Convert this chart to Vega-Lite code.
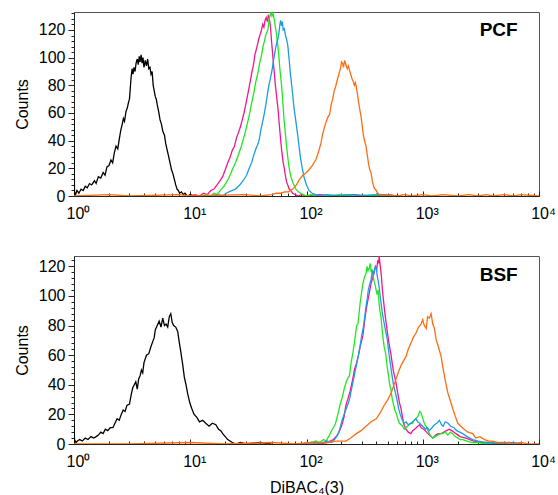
{
  "$schema": "https://vega.github.io/schema/vega-lite/v6.json",
  "padding": {"left": 13, "top": 11, "right": 4, "bottom": 4},
  "config": {
    "font": "Liberation Sans",
    "view": {"stroke": "#555555", "strokeWidth": 1},
    "axis": {"grid": false, "labelFont": "Liberation Sans", "labelFontSize": 16, "labelColor": "#000000", "titleFont": "Liberation Sans", "titleFontSize": 16, "titleFontWeight": "normal", "titleColor": "#000000", "domainColor": "#222222", "tickColor": "#222222"}
  },
  "spacing": 31,
  "datasets": {
    "lab": [{"p": "PCF", "x": 4500, "c": 120}, {"p": "BSF", "x": 4500, "c": 114}],
    "pcf": [
      {"s":"k","x":1,"c":0},{"s":"k","x":1,"c":55},{"s":"k","x":1.01,"c":3},{"s":"k","x":1.03,"c":1},{"s":"k","x":1.06,"c":4},{"s":"k","x":1.1,"c":2},{"s":"k","x":1.15,"c":5},{"s":"k","x":1.2,"c":4},{"s":"k","x":1.25,"c":7},{"s":"k","x":1.3,"c":6},{"s":"k","x":1.36,"c":9},{"s":"k","x":1.42,"c":8},{"s":"k","x":1.5,"c":11},{"s":"k","x":1.55,"c":9},{"s":"k","x":1.62,"c":14},{"s":"k","x":1.7,"c":13},{"s":"k","x":1.78,"c":17},{"s":"k","x":1.85,"c":15},{"s":"k","x":1.92,"c":21},{"s":"k","x":2.0,"c":22},{"s":"k","x":2.08,"c":26},{"s":"k","x":2.15,"c":24},{"s":"k","x":2.22,"c":31},{"s":"k","x":2.3,"c":36},{"s":"k","x":2.38,"c":34},{"s":"k","x":2.45,"c":41},{"s":"k","x":2.52,"c":47},{"s":"k","x":2.6,"c":52},{"s":"k","x":2.66,"c":56},{"s":"k","x":2.72,"c":54},{"s":"k","x":2.8,"c":61},{"s":"k","x":2.88,"c":64},{"s":"k","x":2.95,"c":68},{"s":"k","x":3.0,"c":70},{"s":"k","x":3.05,"c":78},{"s":"k","x":3.1,"c":86},{"s":"k","x":3.16,"c":92},{"s":"k","x":3.22,"c":88},{"s":"k","x":3.28,"c":93},{"s":"k","x":3.35,"c":90},{"s":"k","x":3.42,"c":96},{"s":"k","x":3.5,"c":99},{"s":"k","x":3.57,"c":95},{"s":"k","x":3.64,"c":101},{"s":"k","x":3.7,"c":97},{"s":"k","x":3.78,"c":102},{"s":"k","x":3.85,"c":96},{"s":"k","x":3.92,"c":100},{"s":"k","x":4.0,"c":93},{"s":"k","x":4.1,"c":98},{"s":"k","x":4.2,"c":94},{"s":"k","x":4.3,"c":99},{"s":"k","x":4.4,"c":92},{"s":"k","x":4.5,"c":93},{"s":"k","x":4.6,"c":88},{"s":"k","x":4.7,"c":90},{"s":"k","x":4.8,"c":80},{"s":"k","x":4.9,"c":76},{"s":"k","x":5.0,"c":72},{"s":"k","x":5.1,"c":70},{"s":"k","x":5.2,"c":66},{"s":"k","x":5.35,"c":61},{"s":"k","x":5.5,"c":55},{"s":"k","x":5.65,"c":52},{"s":"k","x":5.8,"c":47},{"s":"k","x":6.0,"c":44},{"s":"k","x":6.15,"c":38},{"s":"k","x":6.3,"c":34},{"s":"k","x":6.5,"c":29},{"s":"k","x":6.7,"c":24},{"s":"k","x":6.9,"c":19},{"s":"k","x":7.1,"c":16},{"s":"k","x":7.3,"c":12},{"s":"k","x":7.5,"c":8},{"s":"k","x":7.7,"c":5},{"s":"k","x":7.9,"c":4},{"s":"k","x":8.1,"c":2},{"s":"k","x":8.4,"c":3},{"s":"k","x":8.7,"c":1},{"s":"k","x":9.0,"c":2},{"s":"k","x":9.4,"c":0},{"s":"k","x":10,"c":1},{"s":"k","x":11,"c":0},{"s":"k","x":14,"c":0},
      {"s":"m","x":10,"c":0},{"s":"m","x":11,"c":1},{"s":"m","x":12,"c":0},{"s":"m","x":13,"c":2},{"s":"m","x":14,"c":1},{"s":"m","x":15,"c":4},{"s":"m","x":16,"c":5},{"s":"m","x":17,"c":8},{"s":"m","x":18,"c":11},{"s":"m","x":19,"c":14},{"s":"m","x":20,"c":19},{"s":"m","x":21,"c":24},{"s":"m","x":22,"c":28},{"s":"m","x":23,"c":33},{"s":"m","x":24,"c":36},{"s":"m","x":25,"c":42},{"s":"m","x":26,"c":46},{"s":"m","x":27,"c":50},{"s":"m","x":28,"c":55},{"s":"m","x":29,"c":60},{"s":"m","x":30,"c":66},{"s":"m","x":31,"c":72},{"s":"m","x":32,"c":78},{"s":"m","x":33,"c":84},{"s":"m","x":34,"c":90},{"s":"m","x":35,"c":95},{"s":"m","x":36,"c":102},{"s":"m","x":37,"c":106},{"s":"m","x":38,"c":110},{"s":"m","x":39,"c":114},{"s":"m","x":40,"c":117},{"s":"m","x":41,"c":120},{"s":"m","x":42,"c":124},{"s":"m","x":43,"c":122},{"s":"m","x":44,"c":127},{"s":"m","x":45,"c":129},{"s":"m","x":46,"c":126},{"s":"m","x":47,"c":131},{"s":"m","x":48,"c":128},{"s":"m","x":49,"c":122},{"s":"m","x":50,"c":112},{"s":"m","x":51,"c":104},{"s":"m","x":52,"c":95},{"s":"m","x":53,"c":88},{"s":"m","x":54,"c":80},{"s":"m","x":55,"c":74},{"s":"m","x":56,"c":68},{"s":"m","x":57,"c":62},{"s":"m","x":58,"c":54},{"s":"m","x":59,"c":47},{"s":"m","x":60,"c":40},{"s":"m","x":61,"c":34},{"s":"m","x":62,"c":29},{"s":"m","x":63,"c":24},{"s":"m","x":64.5,"c":20},{"s":"m","x":66,"c":14},{"s":"m","x":67.5,"c":10},{"s":"m","x":69,"c":8},{"s":"m","x":71,"c":5},{"s":"m","x":73,"c":4},{"s":"m","x":76,"c":2},{"s":"m","x":80,"c":1},{"s":"m","x":85,"c":0},{"s":"m","x":90,"c":1},{"s":"m","x":100,"c":0},{"s":"m","x":130,"c":1},{"s":"m","x":160,"c":0},{"s":"m","x":250,"c":1},{"s":"m","x":350,"c":0},{"s":"m","x":500,"c":1},{"s":"m","x":600,"c":0},
      {"s":"g","x":12,"c":0},{"s":"g","x":14,"c":1},{"s":"g","x":15,"c":0},{"s":"g","x":16,"c":2},{"s":"g","x":17,"c":1},{"s":"g","x":17.7,"c":3},{"s":"g","x":18.5,"c":5},{"s":"g","x":19.5,"c":7},{"s":"g","x":20.5,"c":10},{"s":"g","x":21.5,"c":13},{"s":"g","x":22.5,"c":17},{"s":"g","x":23.3,"c":20},{"s":"g","x":24.5,"c":24},{"s":"g","x":25.5,"c":28},{"s":"g","x":26.5,"c":32},{"s":"g","x":27.5,"c":36},{"s":"g","x":28.4,"c":40},{"s":"g","x":29.5,"c":45},{"s":"g","x":30.5,"c":50},{"s":"g","x":31.5,"c":55},{"s":"g","x":32.5,"c":60},{"s":"g","x":33.5,"c":66},{"s":"g","x":34.5,"c":71},{"s":"g","x":35.5,"c":76},{"s":"g","x":36.5,"c":82},{"s":"g","x":37.5,"c":86},{"s":"g","x":38.5,"c":90},{"s":"g","x":39.5,"c":96},{"s":"g","x":40.6,"c":100},{"s":"g","x":41.5,"c":104},{"s":"g","x":42.5,"c":109},{"s":"g","x":43.5,"c":112},{"s":"g","x":44.5,"c":116},{"s":"g","x":45.5,"c":118},{"s":"g","x":46.8,"c":121},{"s":"g","x":47.5,"c":127},{"s":"g","x":48.5,"c":130},{"s":"g","x":49.5,"c":133},{"s":"g","x":50.5,"c":130},{"s":"g","x":51.5,"c":132},{"s":"g","x":53,"c":127},{"s":"g","x":54,"c":122},{"s":"g","x":55,"c":118},{"s":"g","x":56,"c":112},{"s":"g","x":57,"c":107},{"s":"g","x":58,"c":100},{"s":"g","x":59,"c":92},{"s":"g","x":60,"c":86},{"s":"g","x":61,"c":80},{"s":"g","x":62,"c":73},{"s":"g","x":63,"c":64},{"s":"g","x":64,"c":56},{"s":"g","x":65,"c":50},{"s":"g","x":66,"c":44},{"s":"g","x":67,"c":38},{"s":"g","x":68,"c":33},{"s":"g","x":69,"c":28},{"s":"g","x":70.5,"c":22},{"s":"g","x":72,"c":17},{"s":"g","x":74,"c":13},{"s":"g","x":76,"c":10},{"s":"g","x":78,"c":8},{"s":"g","x":81,"c":5},{"s":"g","x":85,"c":3},{"s":"g","x":89,"c":2},{"s":"g","x":94,"c":1},{"s":"g","x":99,"c":0},{"s":"g","x":110,"c":1},{"s":"g","x":130,"c":0},{"s":"g","x":200,"c":1},{"s":"g","x":250,"c":0},{"s":"g","x":400,"c":1},{"s":"g","x":500,"c":0},
      {"s":"b","x":15,"c":0},{"s":"b","x":17,"c":1},{"s":"b","x":19,"c":0},{"s":"b","x":20.3,"c":2},{"s":"b","x":21.5,"c":3},{"s":"b","x":23,"c":4},{"s":"b","x":24.5,"c":5},{"s":"b","x":26,"c":7},{"s":"b","x":27.3,"c":9},{"s":"b","x":28.4,"c":11},{"s":"b","x":29.5,"c":13},{"s":"b","x":30.5,"c":15},{"s":"b","x":31.5,"c":18},{"s":"b","x":32.5,"c":21},{"s":"b","x":34,"c":25},{"s":"b","x":35,"c":29},{"s":"b","x":36,"c":32},{"s":"b","x":37,"c":35},{"s":"b","x":38,"c":37},{"s":"b","x":39,"c":40},{"s":"b","x":40,"c":45},{"s":"b","x":41,"c":50},{"s":"b","x":42,"c":54},{"s":"b","x":43,"c":58},{"s":"b","x":44.7,"c":66},{"s":"b","x":46,"c":73},{"s":"b","x":47,"c":78},{"s":"b","x":48,"c":82},{"s":"b","x":49.5,"c":87},{"s":"b","x":51,"c":93},{"s":"b","x":52,"c":98},{"s":"b","x":53,"c":102},{"s":"b","x":54,"c":106},{"s":"b","x":55,"c":109},{"s":"b","x":56,"c":112},{"s":"b","x":57,"c":114},{"s":"b","x":58,"c":118},{"s":"b","x":59,"c":124},{"s":"b","x":60,"c":127},{"s":"b","x":61,"c":123},{"s":"b","x":62,"c":126},{"s":"b","x":63,"c":120},{"s":"b","x":64.5,"c":121},{"s":"b","x":66,"c":116},{"s":"b","x":67.5,"c":113},{"s":"b","x":69,"c":109},{"s":"b","x":71,"c":98},{"s":"b","x":73,"c":87},{"s":"b","x":75.5,"c":76},{"s":"b","x":78,"c":64},{"s":"b","x":81,"c":54},{"s":"b","x":84,"c":44},{"s":"b","x":86.5,"c":35},{"s":"b","x":89,"c":27},{"s":"b","x":92,"c":20},{"s":"b","x":95.6,"c":13},{"s":"b","x":100,"c":8},{"s":"b","x":105,"c":4},{"s":"b","x":112,"c":2},{"s":"b","x":120,"c":1},{"s":"b","x":130,"c":0},{"s":"b","x":150,"c":1},{"s":"b","x":180,"c":0},{"s":"b","x":250,"c":1},{"s":"b","x":300,"c":0},{"s":"b","x":450,"c":1},{"s":"b","x":550,"c":0},
      {"s":"o","x":1,"c":0},{"s":"o","x":2,"c":1},{"s":"o","x":3,"c":0},{"s":"o","x":8,"c":1},{"s":"o","x":10,"c":0},{"s":"o","x":30,"c":1},{"s":"o","x":40,"c":0},{"s":"o","x":50,"c":1},{"s":"o","x":55,"c":2},{"s":"o","x":60,"c":2},{"s":"o","x":65,"c":3},{"s":"o","x":70,"c":3},{"s":"o","x":76,"c":5},{"s":"o","x":82,"c":8},{"s":"o","x":87,"c":12},{"s":"o","x":93,"c":15},{"s":"o","x":100,"c":17},{"s":"o","x":105,"c":19},{"s":"o","x":112,"c":22},{"s":"o","x":120,"c":26},{"s":"o","x":127,"c":32},{"s":"o","x":133,"c":38},{"s":"o","x":138,"c":45},{"s":"o","x":143,"c":50},{"s":"o","x":148,"c":54},{"s":"o","x":153,"c":57},{"s":"o","x":158,"c":59},{"s":"o","x":163,"c":66},{"s":"o","x":168,"c":70},{"s":"o","x":173,"c":76},{"s":"o","x":178,"c":79},{"s":"o","x":184,"c":84},{"s":"o","x":190,"c":88},{"s":"o","x":196,"c":92},{"s":"o","x":200,"c":97},{"s":"o","x":204,"c":96},{"s":"o","x":208,"c":93},{"s":"o","x":213,"c":98},{"s":"o","x":218,"c":95},{"s":"o","x":224,"c":92},{"s":"o","x":229,"c":94},{"s":"o","x":234,"c":91},{"s":"o","x":240,"c":88},{"s":"o","x":246,"c":85},{"s":"o","x":252,"c":83},{"s":"o","x":258,"c":80},{"s":"o","x":263,"c":82},{"s":"o","x":268,"c":79},{"s":"o","x":274,"c":74},{"s":"o","x":280,"c":68},{"s":"o","x":288,"c":62},{"s":"o","x":295,"c":57},{"s":"o","x":302,"c":50},{"s":"o","x":310,"c":43},{"s":"o","x":318,"c":39},{"s":"o","x":325,"c":36},{"s":"o","x":333,"c":30},{"s":"o","x":342,"c":23},{"s":"o","x":350,"c":19},{"s":"o","x":359,"c":17},{"s":"o","x":368,"c":11},{"s":"o","x":378,"c":7},{"s":"o","x":388,"c":5},{"s":"o","x":398,"c":4},{"s":"o","x":410,"c":2},{"s":"o","x":425,"c":1},{"s":"o","x":440,"c":0},{"s":"o","x":500,"c":1},{"s":"o","x":600,"c":0},{"s":"o","x":700,"c":1},{"s":"o","x":800,"c":0},{"s":"o","x":1000,"c":1},{"s":"o","x":1200,"c":0},{"s":"o","x":1500,"c":1},{"s":"o","x":2000,"c":0},{"s":"o","x":2500,"c":1},{"s":"o","x":3000,"c":0},{"s":"o","x":3500,"c":1},{"s":"o","x":4000,"c":0},{"s":"o","x":5000,"c":1},{"s":"o","x":6000,"c":0},{"s":"o","x":7000,"c":1},{"s":"o","x":10000,"c":0}
    ],
    "bsf": [
      {"s":"k","x":1,"c":0},{"s":"k","x":1,"c":15},{"s":"k","x":1.01,"c":3},{"s":"k","x":1.04,"c":1},{"s":"k","x":1.07,"c":2},{"s":"k","x":1.12,"c":3},{"s":"k","x":1.18,"c":2},{"s":"k","x":1.25,"c":4},{"s":"k","x":1.32,"c":3},{"s":"k","x":1.4,"c":5},{"s":"k","x":1.48,"c":4},{"s":"k","x":1.55,"c":5},{"s":"k","x":1.62,"c":6},{"s":"k","x":1.7,"c":8},{"s":"k","x":1.78,"c":7},{"s":"k","x":1.86,"c":10},{"s":"k","x":1.95,"c":9},{"s":"k","x":2.05,"c":11},{"s":"k","x":2.16,"c":11},{"s":"k","x":2.25,"c":14},{"s":"k","x":2.35,"c":17},{"s":"k","x":2.45,"c":16},{"s":"k","x":2.55,"c":20},{"s":"k","x":2.65,"c":23},{"s":"k","x":2.75,"c":22},{"s":"k","x":2.85,"c":26},{"s":"k","x":3.0,"c":27},{"s":"k","x":3.1,"c":33},{"s":"k","x":3.2,"c":38},{"s":"k","x":3.3,"c":40},{"s":"k","x":3.4,"c":42},{"s":"k","x":3.5,"c":37},{"s":"k","x":3.6,"c":44},{"s":"k","x":3.7,"c":46},{"s":"k","x":3.8,"c":50},{"s":"k","x":3.9,"c":48},{"s":"k","x":4.0,"c":55},{"s":"k","x":4.2,"c":60},{"s":"k","x":4.4,"c":61},{"s":"k","x":4.6,"c":66},{"s":"k","x":4.8,"c":70},{"s":"k","x":4.9,"c":72},{"s":"k","x":5.0,"c":77},{"s":"k","x":5.2,"c":80},{"s":"k","x":5.4,"c":83},{"s":"k","x":5.6,"c":79},{"s":"k","x":5.8,"c":85},{"s":"k","x":6.0,"c":80},{"s":"k","x":6.2,"c":81},{"s":"k","x":6.4,"c":79},{"s":"k","x":6.6,"c":86},{"s":"k","x":6.8,"c":88},{"s":"k","x":7.0,"c":82},{"s":"k","x":7.2,"c":80},{"s":"k","x":7.5,"c":79},{"s":"k","x":7.8,"c":76},{"s":"k","x":8.0,"c":70},{"s":"k","x":8.3,"c":62},{"s":"k","x":8.6,"c":54},{"s":"k","x":8.9,"c":45},{"s":"k","x":9.2,"c":40},{"s":"k","x":9.5,"c":34},{"s":"k","x":9.9,"c":28},{"s":"k","x":10.3,"c":24},{"s":"k","x":10.8,"c":20},{"s":"k","x":11.4,"c":18},{"s":"k","x":12.0,"c":15},{"s":"k","x":12.8,"c":16},{"s":"k","x":13.6,"c":14},{"s":"k","x":14.5,"c":12},{"s":"k","x":15.5,"c":14},{"s":"k","x":16.6,"c":13},{"s":"k","x":17.5,"c":10},{"s":"k","x":18.3,"c":9},{"s":"k","x":19.0,"c":7},{"s":"k","x":20,"c":5},{"s":"k","x":21,"c":3},{"s":"k","x":22,"c":2},{"s":"k","x":23,"c":1},{"s":"k","x":24.7,"c":0},{"s":"k","x":27,"c":1},{"s":"k","x":30,"c":0},{"s":"k","x":40,"c":1},{"s":"k","x":50,"c":0},
      {"s":"m","x":90,"c":0},{"s":"m","x":110,"c":1},{"s":"m","x":130,"c":0},{"s":"m","x":150,"c":1},{"s":"m","x":170,"c":3},{"s":"m","x":185,"c":6},{"s":"m","x":200,"c":12},{"s":"m","x":210,"c":18},{"s":"m","x":218,"c":26},{"s":"m","x":228,"c":31},{"s":"m","x":238,"c":36},{"s":"m","x":250,"c":44},{"s":"m","x":260,"c":51},{"s":"m","x":270,"c":55},{"s":"m","x":280,"c":60},{"s":"m","x":290,"c":66},{"s":"m","x":305,"c":73},{"s":"m","x":315,"c":82},{"s":"m","x":325,"c":90},{"s":"m","x":335,"c":96},{"s":"m","x":347,"c":102},{"s":"m","x":358,"c":108},{"s":"m","x":370,"c":112},{"s":"m","x":380,"c":115},{"s":"m","x":392,"c":120},{"s":"m","x":402,"c":118},{"s":"m","x":410,"c":124},{"s":"m","x":417,"c":122},{"s":"m","x":422,"c":127},{"s":"m","x":430,"c":121},{"s":"m","x":440,"c":114},{"s":"m","x":450,"c":104},{"s":"m","x":458,"c":98},{"s":"m","x":467,"c":92},{"s":"m","x":480,"c":84},{"s":"m","x":495,"c":76},{"s":"m","x":510,"c":69},{"s":"m","x":520,"c":65},{"s":"m","x":532,"c":61},{"s":"m","x":545,"c":55},{"s":"m","x":560,"c":49},{"s":"m","x":575,"c":45},{"s":"m","x":590,"c":41},{"s":"m","x":610,"c":34},{"s":"m","x":630,"c":28},{"s":"m","x":650,"c":24},{"s":"m","x":670,"c":18},{"s":"m","x":690,"c":13},{"s":"m","x":717,"c":10},{"s":"m","x":750,"c":8},{"s":"m","x":790,"c":7},{"s":"m","x":820,"c":9},{"s":"m","x":850,"c":10},{"s":"m","x":880,"c":11},{"s":"m","x":905,"c":12},{"s":"m","x":940,"c":13},{"s":"m","x":970,"c":11},{"s":"m","x":1020,"c":10},{"s":"m","x":1080,"c":8},{"s":"m","x":1140,"c":6},{"s":"m","x":1220,"c":4},{"s":"m","x":1290,"c":6},{"s":"m","x":1360,"c":7},{"s":"m","x":1440,"c":7},{"s":"m","x":1520,"c":8},{"s":"m","x":1600,"c":9},{"s":"m","x":1690,"c":10},{"s":"m","x":1780,"c":9},{"s":"m","x":1860,"c":8},{"s":"m","x":1930,"c":7},{"s":"m","x":2100,"c":5},{"s":"m","x":2350,"c":4},{"s":"m","x":2750,"c":2},{"s":"m","x":3200,"c":1},{"s":"m","x":3700,"c":1},{"s":"m","x":4200,"c":0},{"s":"m","x":5500,"c":1},{"s":"m","x":6500,"c":0},
      {"s":"g","x":100,"c":0},{"s":"g","x":110,"c":1},{"s":"g","x":120,"c":2},{"s":"g","x":130,"c":1},{"s":"g","x":140,"c":3},{"s":"g","x":147,"c":2},{"s":"g","x":155,"c":5},{"s":"g","x":162,"c":8},{"s":"g","x":170,"c":11},{"s":"g","x":178,"c":14},{"s":"g","x":186,"c":20},{"s":"g","x":195,"c":27},{"s":"g","x":204,"c":32},{"s":"g","x":212,"c":38},{"s":"g","x":220,"c":42},{"s":"g","x":228,"c":45},{"s":"g","x":234,"c":46},{"s":"g","x":242,"c":55},{"s":"g","x":250,"c":61},{"s":"g","x":258,"c":68},{"s":"g","x":264,"c":74},{"s":"g","x":270,"c":80},{"s":"g","x":277,"c":81},{"s":"g","x":283,"c":88},{"s":"g","x":289,"c":95},{"s":"g","x":295,"c":100},{"s":"g","x":302,"c":106},{"s":"g","x":309,"c":110},{"s":"g","x":316,"c":113},{"s":"g","x":325,"c":115},{"s":"g","x":332,"c":120},{"s":"g","x":338,"c":117},{"s":"g","x":347,"c":119},{"s":"g","x":353,"c":122},{"s":"g","x":360,"c":116},{"s":"g","x":367,"c":118},{"s":"g","x":374,"c":113},{"s":"g","x":381,"c":110},{"s":"g","x":388,"c":108},{"s":"g","x":395,"c":105},{"s":"g","x":404,"c":101},{"s":"g","x":412,"c":104},{"s":"g","x":420,"c":96},{"s":"g","x":428,"c":90},{"s":"g","x":437,"c":86},{"s":"g","x":446,"c":78},{"s":"g","x":455,"c":72},{"s":"g","x":465,"c":66},{"s":"g","x":480,"c":61},{"s":"g","x":495,"c":52},{"s":"g","x":510,"c":45},{"s":"g","x":520,"c":40},{"s":"g","x":532,"c":37},{"s":"g","x":545,"c":31},{"s":"g","x":560,"c":27},{"s":"g","x":575,"c":23},{"s":"g","x":590,"c":21},{"s":"g","x":610,"c":17},{"s":"g","x":630,"c":14},{"s":"g","x":650,"c":13},{"s":"g","x":670,"c":12},{"s":"g","x":695,"c":10},{"s":"g","x":717,"c":11},{"s":"g","x":740,"c":12},{"s":"g","x":765,"c":13},{"s":"g","x":790,"c":14},{"s":"g","x":815,"c":14},{"s":"g","x":840,"c":16},{"s":"g","x":865,"c":17},{"s":"g","x":890,"c":18},{"s":"g","x":915,"c":19},{"s":"g","x":940,"c":22},{"s":"g","x":967,"c":21},{"s":"g","x":995,"c":18},{"s":"g","x":1020,"c":15},{"s":"g","x":1045,"c":13},{"s":"g","x":1070,"c":12},{"s":"g","x":1110,"c":9},{"s":"g","x":1160,"c":6},{"s":"g","x":1220,"c":4},{"s":"g","x":1280,"c":5},{"s":"g","x":1350,"c":6},{"s":"g","x":1420,"c":7},{"s":"g","x":1480,"c":7},{"s":"g","x":1560,"c":8},{"s":"g","x":1640,"c":6},{"s":"g","x":1730,"c":8},{"s":"g","x":1810,"c":7},{"s":"g","x":1900,"c":5},{"s":"g","x":2010,"c":4},{"s":"g","x":2110,"c":3},{"s":"g","x":2210,"c":3},{"s":"g","x":2400,"c":2},{"s":"g","x":2690,"c":1},{"s":"g","x":3000,"c":1},{"s":"g","x":3500,"c":0},{"s":"g","x":4000,"c":1},{"s":"g","x":4500,"c":0},
      {"s":"b","x":90,"c":0},{"s":"b","x":110,"c":1},{"s":"b","x":130,"c":0},{"s":"b","x":150,"c":2},{"s":"b","x":165,"c":1},{"s":"b","x":178,"c":4},{"s":"b","x":190,"c":8},{"s":"b","x":204,"c":17},{"s":"b","x":215,"c":22},{"s":"b","x":225,"c":26},{"s":"b","x":234,"c":30},{"s":"b","x":244,"c":37},{"s":"b","x":256,"c":45},{"s":"b","x":268,"c":53},{"s":"b","x":280,"c":60},{"s":"b","x":290,"c":67},{"s":"b","x":300,"c":74},{"s":"b","x":310,"c":80},{"s":"b","x":318,"c":87},{"s":"b","x":325,"c":93},{"s":"b","x":333,"c":98},{"s":"b","x":340,"c":104},{"s":"b","x":350,"c":108},{"s":"b","x":359,"c":111},{"s":"b","x":368,"c":117},{"s":"b","x":376,"c":115},{"s":"b","x":385,"c":118},{"s":"b","x":392,"c":120},{"s":"b","x":398,"c":119},{"s":"b","x":405,"c":114},{"s":"b","x":414,"c":110},{"s":"b","x":422,"c":106},{"s":"b","x":430,"c":100},{"s":"b","x":440,"c":94},{"s":"b","x":450,"c":88},{"s":"b","x":462,"c":83},{"s":"b","x":480,"c":76},{"s":"b","x":495,"c":71},{"s":"b","x":510,"c":62},{"s":"b","x":525,"c":55},{"s":"b","x":540,"c":48},{"s":"b","x":560,"c":40},{"s":"b","x":580,"c":35},{"s":"b","x":600,"c":30},{"s":"b","x":620,"c":24},{"s":"b","x":640,"c":20},{"s":"b","x":660,"c":17},{"s":"b","x":690,"c":14},{"s":"b","x":720,"c":15},{"s":"b","x":750,"c":13},{"s":"b","x":785,"c":14},{"s":"b","x":820,"c":15},{"s":"b","x":850,"c":16},{"s":"b","x":875,"c":17},{"s":"b","x":905,"c":15},{"s":"b","x":940,"c":14},{"s":"b","x":970,"c":13},{"s":"b","x":1000,"c":12},{"s":"b","x":1060,"c":10},{"s":"b","x":1100,"c":11},{"s":"b","x":1140,"c":9},{"s":"b","x":1200,"c":11},{"s":"b","x":1260,"c":13},{"s":"b","x":1320,"c":14},{"s":"b","x":1390,"c":16},{"s":"b","x":1450,"c":13},{"s":"b","x":1500,"c":12},{"s":"b","x":1560,"c":15},{"s":"b","x":1650,"c":14},{"s":"b","x":1740,"c":12},{"s":"b","x":1860,"c":11},{"s":"b","x":1960,"c":9},{"s":"b","x":2080,"c":8},{"s":"b","x":2210,"c":7},{"s":"b","x":2400,"c":5},{"s":"b","x":2690,"c":3},{"s":"b","x":3000,"c":2},{"s":"b","x":3500,"c":1},{"s":"b","x":4000,"c":1},{"s":"b","x":4500,"c":0},{"s":"b","x":6000,"c":1},{"s":"b","x":7000,"c":0},
      {"s":"o","x":1,"c":0},{"s":"o","x":3,"c":0},{"s":"o","x":10,"c":1},{"s":"o","x":20,"c":0},{"s":"o","x":50,"c":1},{"s":"o","x":80,"c":0},{"s":"o","x":110,"c":1},{"s":"o","x":147,"c":1},{"s":"o","x":180,"c":2},{"s":"o","x":218,"c":2},{"s":"o","x":240,"c":4},{"s":"o","x":268,"c":7},{"s":"o","x":295,"c":9},{"s":"o","x":325,"c":12},{"s":"o","x":360,"c":15},{"s":"o","x":398,"c":17},{"s":"o","x":430,"c":21},{"s":"o","x":465,"c":26},{"s":"o","x":500,"c":30},{"s":"o","x":532,"c":34},{"s":"o","x":560,"c":39},{"s":"o","x":590,"c":44},{"s":"o","x":620,"c":49},{"s":"o","x":650,"c":53},{"s":"o","x":680,"c":56},{"s":"o","x":717,"c":59},{"s":"o","x":750,"c":64},{"s":"o","x":790,"c":68},{"s":"o","x":830,"c":72},{"s":"o","x":875,"c":75},{"s":"o","x":920,"c":79},{"s":"o","x":967,"c":81},{"s":"o","x":1000,"c":84},{"s":"o","x":1030,"c":80},{"s":"o","x":1070,"c":78},{"s":"o","x":1100,"c":86},{"s":"o","x":1140,"c":85},{"s":"o","x":1180,"c":88},{"s":"o","x":1220,"c":81},{"s":"o","x":1260,"c":78},{"s":"o","x":1300,"c":71},{"s":"o","x":1370,"c":65},{"s":"o","x":1440,"c":59},{"s":"o","x":1480,"c":53},{"s":"o","x":1520,"c":48},{"s":"o","x":1580,"c":41},{"s":"o","x":1650,"c":34},{"s":"o","x":1730,"c":29},{"s":"o","x":1810,"c":24},{"s":"o","x":1900,"c":19},{"s":"o","x":2000,"c":14},{"s":"o","x":2130,"c":12},{"s":"o","x":2270,"c":10},{"s":"o","x":2450,"c":8},{"s":"o","x":2690,"c":7},{"s":"o","x":2860,"c":4},{"s":"o","x":3100,"c":5},{"s":"o","x":3400,"c":3},{"s":"o","x":3700,"c":2},{"s":"o","x":4000,"c":2},{"s":"o","x":4500,"c":1},{"s":"o","x":5200,"c":1},{"s":"o","x":6000,"c":0},{"s":"o","x":7000,"c":1},{"s":"o","x":8000,"c":0},{"s":"o","x":10000,"c":0}
    ]
  },
  "vconcat": [
    {
      "width": 465,
      "height": 184,
      "resolve": {"axis": {"y": "independent"}},
      "layer": [
        {
          "data": {"name": "pcf"},
          "mark": {"type": "line", "strokeWidth": 1.3, "clip": true},
          "encoding": {
            "x": {"field": "x", "type": "quantitative", "title": null,
              "scale": {"type": "log", "domain": [1, 10000]},
              "axis": {"values": [1,2,3,4,5,6,7,8,9,10,20,30,40,50,60,70,80,90,100,200,300,400,500,600,700,800,900,1000,2000,3000,4000,5000,6000,7000,8000,9000,10000],
                "labelExpr": "datum.value==1?'10⁰':datum.value==10?'10¹':datum.value==100?'10²':datum.value==1000?'10³':datum.value==10000?'10⁴':''",
                "tickSize": {"condition": {"test": "indexof([1,10,100,1000,10000], datum.value) >= 0", "value": -5}, "value": -3},
                "labelPadding": 14, "labelOffset": 4, "labelFlush": false, "labelOverlap": false}},
            "y": {"field": "c", "type": "quantitative", "title": "Counts",
              "scale": {"domain": [0, 133], "nice": false},
              "axis": {"values": [0,20,40,60,80,100,120], "tickSize": 6, "labelPadding": 3, "titlePadding": 8}},
            "color": {"field": "s", "type": "nominal", "legend": null,
              "scale": {"domain": ["k", "m", "g", "b", "o"], "range": ["#000000", "#f2178c", "#22e622", "#1d9be6", "#ff6d12"]}}
          }
        },
        {
          "data": {"name": "lab"},
          "transform": [{"filter": "datum.p == 'PCF'"}],
          "mark": {"type": "text", "font": "Liberation Sans", "fontSize": 19, "fontWeight": "bold", "align": "center", "baseline": "middle"},
          "encoding": {
            "x": {"field": "x", "type": "quantitative"},
            "y": {"field": "c", "type": "quantitative",
              "axis": {"orient": "left", "values": [4,8,12,16,24,28,32,36,44,48,52,56,64,68,72,76,84,88,92,96,104,108,112,116,124,128,132], "labels": false, "domain": false, "title": null, "tickSize": 3, "offset": 0}},
            "text": {"field": "p"}
          }
        }
      ]
    },
    {
      "width": 465,
      "height": 188,
      "resolve": {"axis": {"y": "independent"}},
      "layer": [
        {
          "data": {"name": "bsf"},
          "mark": {"type": "line", "strokeWidth": 1.3, "clip": true},
          "encoding": {
            "x": {"field": "x", "type": "quantitative", "title": "DiBAC₄(3)",
              "scale": {"type": "log", "domain": [1, 10000]},
              "axis": {"values": [1,2,3,4,5,6,7,8,9,10,20,30,40,50,60,70,80,90,100,200,300,400,500,600,700,800,900,1000,2000,3000,4000,5000,6000,7000,8000,9000,10000],
                "labelExpr": "datum.value==1?'10⁰':datum.value==10?'10¹':datum.value==100?'10²':datum.value==1000?'10³':datum.value==10000?'10⁴':''",
                "tickSize": {"condition": {"test": "indexof([1,10,100,1000,10000], datum.value) >= 0", "value": -5}, "value": -3},
                "labelPadding": 14, "labelOffset": 4, "labelFlush": false, "labelOverlap": false, "titlePadding": 8}},
            "y": {"field": "c", "type": "quantitative", "title": "Counts",
              "scale": {"domain": [0, 127], "nice": false},
              "axis": {"values": [0,20,40,60,80,100,120], "tickSize": 6, "labelPadding": 3, "titlePadding": 8}},
            "color": {"field": "s", "type": "nominal", "legend": null,
              "scale": {"domain": ["k", "m", "g", "b", "o"], "range": ["#000000", "#f2178c", "#22e622", "#1d9be6", "#ff6d12"]}}
          }
        },
        {
          "data": {"name": "lab"},
          "transform": [{"filter": "datum.p == 'BSF'"}],
          "mark": {"type": "text", "font": "Liberation Sans", "fontSize": 19, "fontWeight": "bold", "align": "center", "baseline": "middle"},
          "encoding": {
            "x": {"field": "x", "type": "quantitative"},
            "y": {"field": "c", "type": "quantitative",
              "axis": {"orient": "left", "values": [4,8,12,16,24,28,32,36,44,48,52,56,64,68,72,76,84,88,92,96,104,108,112,116,124], "labels": false, "domain": false, "title": null, "tickSize": 3, "offset": 0}},
            "text": {"field": "p"}
          }
        }
      ]
    }
  ]
}
